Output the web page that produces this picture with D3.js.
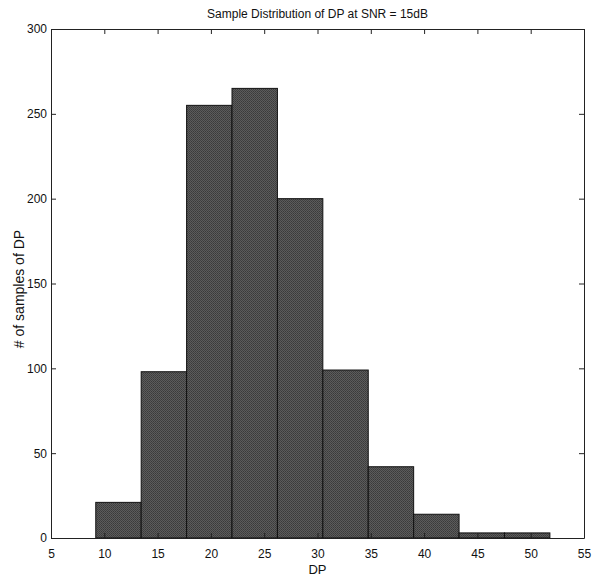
<!DOCTYPE html>
<html>
<head>
<meta charset="utf-8">
<script src="https://cdn.jsdelivr.net/npm/d3@7/dist/d3.min.js"></script>
<style>
  html, body { margin: 0; padding: 0; background: #fff; }
  svg text { font-family: "Liberation Sans", Arial, Helvetica, sans-serif; fill: #111; }
</style>
</head>
<body>
<svg id="chart" width="596" height="580"></svg>
<script>
// Histogram of DP samples: 10 equal bins between the sample min and max
const binStart = 9.2;
const binEnd = 51.8;
const binCounts = [21, 98, 255, 265, 200, 99, 42, 14, 3, 3];
const xTicks = [5, 10, 15, 20, 25, 30, 35, 40, 45, 50, 55];
const yTicks = [0, 50, 100, 150, 200, 250, 300];
const titleText = "Sample Distribution of DP at SNR = 15dB";
const xLabelText = "DP";
const yLabelText = "# of samples of DP";

const margin = { left: 51, right: 12, top: 29, bottom: 42 };
const W = 596, H = 580;
const innerW = W - margin.left - margin.right;
const innerH = H - margin.top - margin.bottom;

const svg = d3.select("#chart");

// Halftone-like fill for the bars
const defs = svg.append("defs");
const pat = defs.append("pattern")
  .attr("id", "dots").attr("patternUnits", "userSpaceOnUse")
  .attr("width", 2).attr("height", 2);
pat.append("rect").attr("width", 2).attr("height", 2).attr("fill", "#5c5c5c");
pat.append("rect").attr("width", 1).attr("height", 1).attr("fill", "#3a3a3a");
pat.append("rect").attr("x", 1).attr("y", 1).attr("width", 1).attr("height", 1).attr("fill", "#424242");

const g = svg.append("g").attr("transform", `translate(${margin.left},${margin.top})`);

const x = d3.scaleLinear().domain([5, 55]).range([0, innerW]);
const y = d3.scaleLinear().domain([0, 300]).range([innerH, 0]);

const binW = (binEnd - binStart) / binCounts.length;
const bins = binCounts.map((c, i) => ({ x0: binStart + i * binW, x1: binStart + (i + 1) * binW, count: c }));

g.selectAll("rect.bar").data(bins).enter().append("rect")
  .attr("class", "bar")
  .attr("x", d => x(d.x0))
  .attr("y", d => y(d.count))
  .attr("width", d => x(d.x1) - x(d.x0))
  .attr("height", d => y(0) - y(d.count))
  .attr("fill", "url(#dots)")
  .attr("stroke", "#111")
  .attr("stroke-width", 1);

// Axes with inward ticks on all four sides
const tickLen = 5;
const axisBottomG = g.append("g").attr("transform", `translate(0,${innerH})`)
  .call(d3.axisBottom(x).tickValues(xTicks).tickSizeInner(-tickLen).tickSizeOuter(0).tickPadding(11));
const axisLeftG = g.append("g")
  .call(d3.axisLeft(y).tickValues(yTicks).tickSizeInner(-tickLen).tickSizeOuter(0).tickPadding(4));
const axisTopG = g.append("g")
  .call(d3.axisTop(x).tickValues(xTicks).tickSizeInner(-tickLen).tickSizeOuter(0).tickFormat(""));
const axisRightG = g.append("g").attr("transform", `translate(${innerW},0)`)
  .call(d3.axisRight(y).tickValues(yTicks).tickSizeInner(-tickLen).tickSizeOuter(0).tickFormat(""));

[axisBottomG, axisLeftG, axisTopG, axisRightG].forEach(a => {
  a.select(".domain").attr("stroke", "#222");
  a.selectAll(".tick line").attr("stroke", "#222");
  a.selectAll("text").attr("font-size", 12).attr("fill", "#111")
    .style("font-family", '"Liberation Sans", Arial, sans-serif');
});

svg.append("text")
  .attr("x", margin.left + innerW / 2).attr("y", 18)
  .attr("text-anchor", "middle").attr("font-size", 12)
  .text(titleText);

svg.append("text")
  .attr("x", margin.left + innerW / 2).attr("y", 574)
  .attr("text-anchor", "middle").attr("font-size", 13)
  .text(xLabelText);

svg.append("text")
  .attr("transform", `translate(24,289) rotate(-90)`)
  .attr("text-anchor", "middle").attr("font-size", 14)
  .text(yLabelText);
</script>
</body>
</html>
